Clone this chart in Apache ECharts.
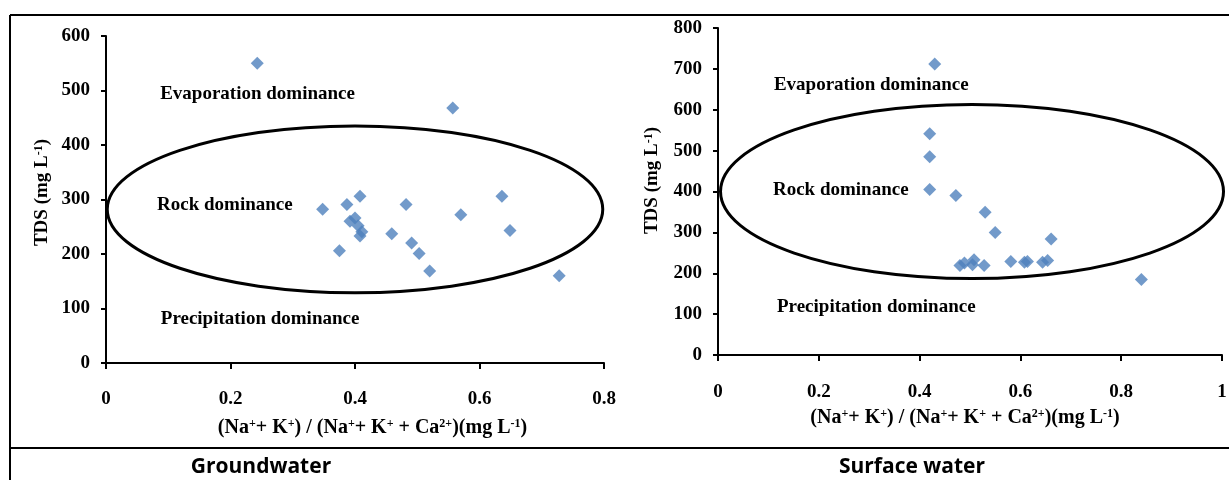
<!DOCTYPE html>
<html>
<head>
<meta charset="utf-8">
<script src="https://cdn.jsdelivr.net/npm/echarts@6/dist/echarts.min.js"></script>
<style>
	html, body { margin: 0; background: #fff; }
	#main { width: 1229px; height: 480px; }
</style>
</head>
<body>
<div id="main"></div>
<script>
	// Groundwater samples
	let gwRatio = [0.243, 0.557, 0.348, 0.387, 0.408, 0.482, 0.392, 0.400, 0.405, 0.411,
		0.408, 0.375, 0.459, 0.491, 0.503, 0.520, 0.570, 0.636, 0.649, 0.728];
	let gwTDS = [550, 468, 282, 291, 306, 291, 260, 266, 252, 241,
		233, 206, 237, 220, 201, 169, 272, 306, 243, 160];

	// Surface water samples
	let swRatio = [0.430, 0.420, 0.420, 0.420, 0.472, 0.530, 0.550, 0.480, 0.489, 0.508,
		0.505, 0.528, 0.581, 0.608, 0.614, 0.644, 0.654, 0.661, 0.840];
	let swTDS = [712, 541, 485, 405, 390, 349, 300, 219, 225, 233,
		221, 219, 229, 227, 229, 227, 231, 284, 185];

	// Gibbs zones
	let zoneNames = ['Evaporation dominance', 'Rock dominance', 'Precipitation dominance'];
	let gwZoneX = [0.087, 0.082, 0.088];
	let gwZoneY = [494, 290, 81];
	let swZoneX = [0.111, 0.109, 0.117];
	let swZoneY = [661, 404, 118];

	// rock dominance ellipse: centre x, centre y, radius x, radius y
	let gwEllipse = [0.400, 282, 0.398, 153];
	let swEllipse = [0.504, 400, 0.499, 213];

	let panelTitles = ['Groundwater', 'Surface water'];

	let serif = 'Liberation Serif';
	let dark = '#000';

	let chartDom = document.getElementById('main');
	let myChart = echarts.init(chartDom);

	let supRich = {
		s: { fontSize: 12, fontWeight: 'bold', fontFamily: serif, color: dark, verticalAlign: 'top' }
	};

	function xAxisFor(idx, max, labelMargin, nameGap, pad) {
		return {
			gridIndex: idx,
			type: 'value',
			min: 0,
			max: max,
			interval: 0.2,
			name: '(Na{s|+}+ K{s|+}) / (Na{s|+}+ K{s|+} + Ca{s|2+})(mg L{s|-1})',
			nameLocation: 'middle',
			nameGap: nameGap,
			nameTextStyle: {
				fontFamily: serif, fontWeight: 'bold', fontSize: 20, color: dark,
				padding: pad, rich: supRich
			},
			axisLine: { show: true, lineStyle: { color: '#000', width: 2 } },
			axisTick: { show: true, length: 6, lineStyle: { color: '#000', width: 2 } },
			axisLabel: { fontFamily: serif, fontWeight: 'bold', fontSize: 19, color: '#000', margin: labelMargin },
			splitLine: { show: false }
		};
	}

	function yAxisFor(idx, max, nameGap, pad) {
		return {
			gridIndex: idx,
			type: 'value',
			min: 0,
			max: max,
			interval: 100,
			name: 'TDS (mg L{s|-1})',
			nameLocation: 'middle',
			nameGap: nameGap,
			nameTextStyle: {
				fontFamily: serif, fontWeight: 'bold', fontSize: 19, color: dark,
				padding: pad, rich: supRich
			},
			axisLine: { show: true, lineStyle: { color: '#000', width: 2 } },
			axisTick: { show: true, length: 5, lineStyle: { color: '#000', width: 2 } },
			axisLabel: { fontFamily: serif, fontWeight: 'bold', fontSize: 19, color: '#000', margin: 16 },
			splitLine: { show: false }
		};
	}

	function ellipseSeries(idx, e) {
		return {
			type: 'custom',
			xAxisIndex: idx,
			yAxisIndex: idx,
			clip: false,
			silent: true,
			z: 1,
			data: [e],
			renderItem: function (params, api) {
				let c = api.coord([api.value(0), api.value(1)]);
				let s = api.size([api.value(2), api.value(3)]);
				return {
					type: 'ellipse',
					shape: { cx: c[0], cy: c[1], rx: s[0], ry: s[1] },
					style: { fill: 'none', stroke: '#000', lineWidth: 3 }
				};
			}
		};
	}

	function pointSeries(idx, xs, ys) {
		return {
			type: 'scatter',
			xAxisIndex: idx,
			yAxisIndex: idx,
			symbol: 'diamond',
			symbolSize: 13,
			z: 3,
			itemStyle: { color: '#4F81BD' },
			data: xs.map((x, i) => [x, ys[i]])
		};
	}

	function zoneSeries(idx, xs, ys) {
		return {
			type: 'custom',
			xAxisIndex: idx,
			yAxisIndex: idx,
			clip: false,
			silent: true,
			z: 2,
			data: xs.map((x, i) => [x, ys[i], i]),
			renderItem: function (params, api) {
				let p = api.coord([api.value(0), api.value(1)]);
				return {
					type: 'text',
					x: p[0],
					y: p[1],
					style: {
						text: zoneNames[api.value(2)],
						font: 'bold 19px "' + serif + '"',
						fill: dark,
						align: 'left',
						verticalAlign: 'middle'
					}
				};
			}
		};
	}

	let frame = { stroke: '#000', lineWidth: 2 };

	let option = {
		animation: false,
		grid: [
			{ left: 106, top: 36, width: 498, height: 327, outerBoundsMode: 'none' },
			{ left: 718, top: 28, width: 504, height: 327, outerBoundsMode: 'none' }
		],
		xAxis: [
			xAxisFor(0, 0.8, 27, 55, [0, 0, 0, 35]),
			xAxisFor(1, 1, 28, 53, [0, 10, 0, 0])
		],
		yAxis: [
			yAxisFor(0, 600, 54, [0, 0, 0, 14]),
			yAxisFor(1, 800, 56, [0, 0, 0, 22])
		],
		graphic: [
			{ type: 'line', shape: { x1: 10, y1: 15, x2: 1229, y2: 15 }, style: frame },
			{ type: 'line', shape: { x1: 10, y1: 15, x2: 10, y2: 480 }, style: frame },
			{ type: 'line', shape: { x1: 10, y1: 448, x2: 1229, y2: 448 }, style: frame },
			{
				type: 'text', x: 261, y: 467,
				style: {
					text: panelTitles[0], align: 'center', verticalAlign: 'middle',
					font: 'bold 21px "Open Sans"', fill: '#000'
				}
			},
			{
				type: 'text', x: 912, y: 467,
				style: {
					text: panelTitles[1], align: 'center', verticalAlign: 'middle',
					font: 'bold 21px "Open Sans"', fill: '#000'
				}
			}
		],
		series: [
			ellipseSeries(0, gwEllipse),
			zoneSeries(0, gwZoneX, gwZoneY),
			pointSeries(0, gwRatio, gwTDS),
			ellipseSeries(1, swEllipse),
			zoneSeries(1, swZoneX, swZoneY),
			pointSeries(1, swRatio, swTDS)
		]
	};

	myChart.setOption(option);
</script>
</body>
</html>
